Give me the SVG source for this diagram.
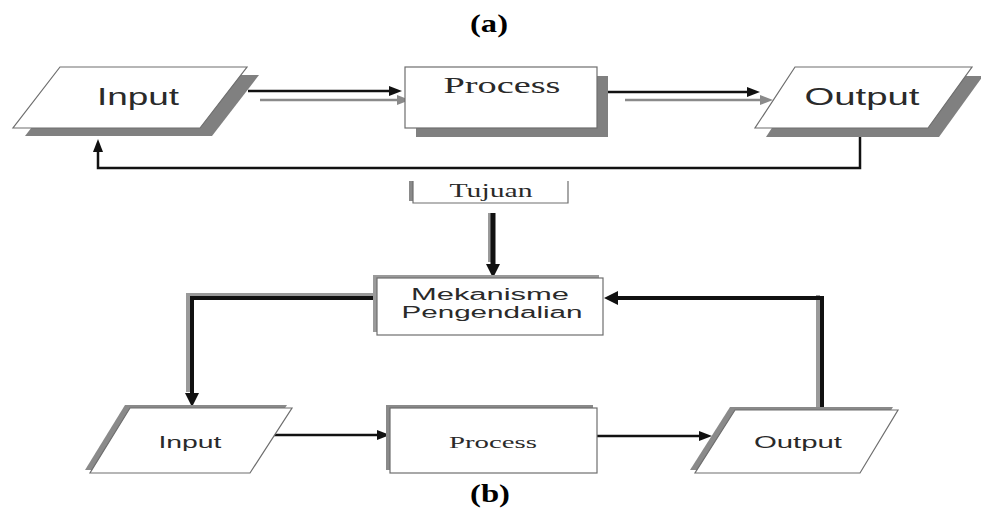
<svg xmlns="http://www.w3.org/2000/svg" width="981" height="515" viewBox="0 0 981 515">
<style>
.shape{fill:#fff;stroke:#6e6e6e;stroke-width:1.2}
.shadow{fill:#808080;stroke:none}
.sans{font-family:"Liberation Sans","Open Sans",Arial,sans-serif;fill:#2a2a2a;text-anchor:middle}
.serif{font-family:"Liberation Serif","Times New Roman",serif;fill:#2a2a2a;text-anchor:middle}
.title{font-family:"Liberation Serif","Times New Roman",serif;font-weight:bold;fill:#000;text-anchor:middle;font-size:26px}
.blk{fill:none;stroke:#111;stroke-width:2.5}
.gry{fill:none;stroke:#8a8a8a;stroke-width:2.5}
.thick{fill:none;stroke:#111;stroke-width:4}
.thickShadow{fill:none;stroke:#9a9a9a;stroke-width:4}
</style>
<defs>
<marker id="ab" markerUnits="userSpaceOnUse" markerWidth="13" markerHeight="10" refX="1" refY="5" orient="auto"><path d="M0,0 L13,5 L0,10 z" fill="#111"/></marker>
<marker id="ag" markerUnits="userSpaceOnUse" markerWidth="13" markerHeight="10" refX="1" refY="5" orient="auto"><path d="M0,0 L13,5 L0,10 z" fill="#8a8a8a"/></marker>
<marker id="abig" markerUnits="userSpaceOnUse" markerWidth="14" markerHeight="14" refX="1" refY="7" orient="auto"><path d="M0,0 L14,7 L0,14 z" fill="#111"/></marker>
</defs>

<rect width="981" height="515" fill="#fff"/>

<text class="title" x="489" y="32" textLength="38" lengthAdjust="spacingAndGlyphs">(a)</text>
<text class="title" x="490" y="502" textLength="40" lengthAdjust="spacingAndGlyphs">(b)</text>

<g id="connectors">
  <!-- top: Input -> Process -->
  <line class="blk" x1="248" y1="91" x2="390" y2="91" marker-end="url(#ab)"/>
  <line class="gry" x1="260" y1="100" x2="398" y2="100" marker-end="url(#ag)"/>
  <!-- top: Process -> Output -->
  <line class="blk" x1="608" y1="92" x2="748" y2="92" marker-end="url(#ab)"/>
  <line class="gry" x1="625" y1="100" x2="761" y2="100" marker-end="url(#ag)"/>
  <!-- top feedback -->
  <polyline class="blk" points="860,137 860,168 98,168 98,151" stroke-width="3" marker-end="url(#ab)"/>
  <!-- Tujuan -> Mekanisme -->
  <line class="thickShadow" x1="490" y1="213" x2="490" y2="262"/>
  <line x1="493" y1="213" x2="493" y2="265" stroke="#111" stroke-width="5" marker-end="url(#abig)"/>
  <!-- Mekanisme -> bottom Input -->
  <polyline class="thickShadow" points="377,295 188,295 188,392"/>
  <polyline class="thick" points="377,298 192,298 192,394" marker-end="url(#abig)"/>
  <!-- bottom Input -> Process -->
  <line class="blk" x1="270" y1="435" x2="378" y2="435" stroke-width="3" marker-end="url(#ab)"/>
  <!-- bottom Process -> Output -->
  <line class="blk" x1="597" y1="436" x2="700" y2="436" stroke-width="3" marker-end="url(#ab)"/>
  <!-- Output -> Mekanisme feedback -->
  <polyline class="thickShadow" points="818,410 818,295"/>
  <polyline class="thick" points="822,410 822,298 617,298" marker-end="url(#abig)"/>
</g>

<g id="input-a">
  <polygon class="shadow" points="72,75 259,75 212,136 25,136"/>
  <polygon class="shape" points="60,67 247,67 200,128 13,128"/>
  <text class="sans" x="138" y="105" font-size="24" textLength="82" lengthAdjust="spacingAndGlyphs">Input</text>
</g>

<g id="process-a">
  <rect class="shadow" x="416" y="76" width="192" height="61"/>
  <rect class="shape" x="405" y="67" width="192" height="61"/>
  <text class="serif" x="502" y="93" font-size="23" textLength="117" lengthAdjust="spacingAndGlyphs">Process</text>
</g>

<g id="output-a">
  <polygon class="shadow" points="806,76 983,76 939,137 766,137"/>
  <polygon class="shape" points="795,67 972,67 928,128 755,128"/>
  <text class="sans" x="862" y="105" font-size="24" textLength="115" lengthAdjust="spacingAndGlyphs">Output</text>
</g>

<g id="tujuan">
  <rect x="412" y="181" width="156" height="22" fill="#fff"/>
  <line x1="411" y1="181" x2="411" y2="201" stroke="#8a8a8a" stroke-width="4"/>
  <polyline points="413,181 413,203 568,203 568,181" fill="none" stroke="#6e6e6e" stroke-width="1.2"/>
  <text class="serif" x="491" y="197" font-size="18" textLength="83" lengthAdjust="spacingAndGlyphs">Tujuan</text>
</g>

<g id="mekanisme">
  <rect x="373" y="275" width="226" height="57" fill="#9a9a9a"/>
  <rect class="shape" x="377" y="278" width="226" height="57"/>
  <text class="sans" x="490" y="300" font-size="16" textLength="158" lengthAdjust="spacingAndGlyphs">Mekanisme</text>
  <text class="sans" x="492" y="318" font-size="16" textLength="181" lengthAdjust="spacingAndGlyphs">Pengendalian</text>
</g>

<g id="input-b">
  <polygon points="125,405 287,405 245,470 85,470" fill="#8a8a8a"/>
  <polygon class="shape" points="130,408 292,408 250,473 90,473"/>
  <text class="sans" x="190" y="448" font-size="16" textLength="63" lengthAdjust="spacingAndGlyphs">Input</text>
</g>

<g id="process-b">
  <rect x="386" y="405" width="207" height="65" fill="#8a8a8a"/>
  <rect class="shape" x="390" y="408" width="207" height="65"/>
  <text class="serif" x="493" y="448" font-size="17" textLength="88" lengthAdjust="spacingAndGlyphs">Process</text>
</g>

<g id="output-b">
  <polygon points="730,407 893,407 855,470 690,470" fill="#8a8a8a"/>
  <polygon class="shape" points="735,410 898,410 860,473 695,473"/>
  <text class="sans" x="798" y="448" font-size="16" textLength="88" lengthAdjust="spacingAndGlyphs">Output</text>
</g>
</svg>
